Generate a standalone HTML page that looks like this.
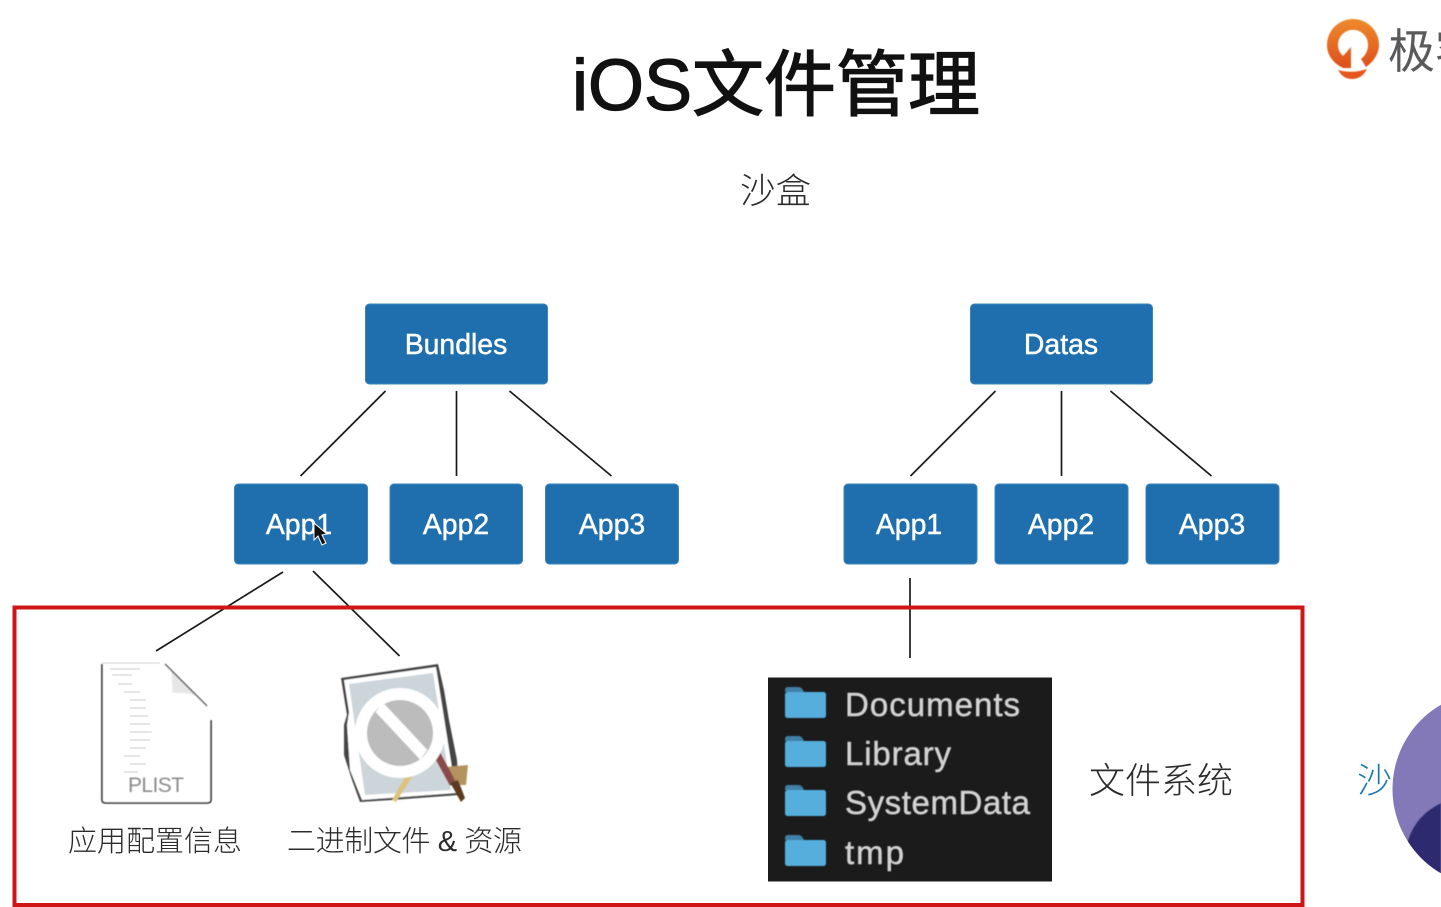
<!DOCTYPE html>
<html>
<head>
<meta charset="utf-8">
<style>
html,body{margin:0;padding:0;background:#fff;width:1441px;height:907px;overflow:hidden}
svg{display:block}
text{font-family:"Liberation Sans","Noto Sans CJK SC",sans-serif}
.b{fill:#1f6fae;stroke:#3a86bd;stroke-width:1}
.t{fill:#fff;stroke:#fff;stroke-width:.45;font-size:28.4px;text-anchor:middle}
.l{stroke:#1a1a1a;stroke-width:1.7;fill:none}
.c{fill:#2b2b2b;font-weight:300}
.f{fill:#d2d2d2;stroke:#d2d2d2;stroke-width:.5;font-size:33px}
</style>
</head>
<body>
<svg width="1441" height="907" viewBox="0 0 1441 907" xmlns="http://www.w3.org/2000/svg">
<defs>
<filter id="s"><feGaussianBlur stdDeviation="0.5"/></filter>
<linearGradient id="og" x1="0" y1="0" x2="0" y2="1"><stop offset="0" stop-color="#ee8a2c"/><stop offset="1" stop-color="#dd4f1c"/></linearGradient>
<clipPath id="av"><circle cx="1490" cy="789" r="97.5"/></clipPath>
<g id="fd">
<path d="M0 4q0-3 3-3h11q2 0 4 3l1 2h-19z" fill="#3f7fa6"/>
<rect x="0" y="6" width="41" height="26" rx="2.5" fill="#54aedc"/>
</g>
</defs>

<text x="572" y="110" font-size="72" fill="#111" stroke="#111" stroke-width="1.3">iOS文件管理</text>
<text x="740" y="203" font-size="35.5" class="c">沙盒</text>

<g class="l">
<path d="M385.5 391L300.5 476M456.5 391V476M509.5 391L611.5 476"/>
<path d="M995.5 391L910.5 476M1061.5 391V476M1110.5 391L1211.5 476"/>
<path d="M283 572L156 651M313 571L399.5 656M910 578V658"/>
</g>

<rect class="b" x="365.5" y="304" width="182" height="80" rx="4"/>
<rect class="b" x="970.5" y="304" width="182" height="80" rx="4"/>
<rect class="b" x="234.5" y="484" width="133" height="80" rx="4"/>
<rect class="b" x="390" y="484" width="132.500" height="80" rx="4"/>
<rect class="b" x="545.5" y="484" width="133" height="80" rx="4"/>
<rect class="b" x="844" y="484" width="133" height="80" rx="4"/>
<rect class="b" x="995" y="484" width="133" height="80" rx="4"/>
<rect class="b" x="1146" y="484" width="133" height="80" rx="4"/>
<text class="t" x="456" y="354">Bundles</text>
<text class="t" x="1061" y="354">Datas</text>
<text class="t" x="299" y="534">App1</text>
<text class="t" x="456" y="534">App2</text>
<text class="t" x="612" y="534">App3</text>
<text class="t" x="909" y="534">App1</text>
<text class="t" x="1061" y="534">App2</text>
<text class="t" x="1212" y="534">App3</text>
<path d="M314 523L314 540L318 536L322 545L326 543L322 535L327 534Z" fill="#111" stroke="#fff" stroke-width="1"/>

<rect x="14.500" y="607.500" width="1288" height="297.500" fill="none" stroke="#cf1515" stroke-width="4"/>

<!-- plist -->
<g filter="url(#s)">
<path d="M102 663Q102 662 104 662H160Q164 662 168 667L204 702Q211 710 211 720V800Q211 803 207 803H106Q102 803 102 800Z" fill="#fff"/>
<path d="M102 664V800Q102 803 106 803H207Q211 803 211 800V720" fill="none" stroke="#222" stroke-width="1.6"/>
<path d="M102 663H160" stroke="#ccc" stroke-width="1"/>
<path d="M171 668Q173 690 172 693Q190 692 199 697Z" fill="#e6e6e6"/>
<path d="M165 664L207 706" stroke="#555" stroke-width="1.4"/>
<g stroke="#c4c4c4" stroke-width="1.1">
<path d="M110 669H140M112 675H132M118 684H132M124 692H140M130 700H146M130 708H146M130 716H148M130 724H150M130 732H152M130 740H150M130 748H146M124 756H140M130 764H146M124 772H138"/>
</g>
</g>
<text x="128" y="792" font-size="21" fill="#8a8a8a" filter="url(#s)" textLength="56">PLIST</text>

<!-- app icon -->
<g filter="url(#s)">
<path d="M341 678L438 664L444 690L449 720L457 760L459 795L392 800L360 802L352 780L344 755L344 725L347 715Z" fill="#444"/>
<path d="M344 680L436 667L456 793L362 800L350 770L347 725L349 712Z" fill="#fff"/>
<path d="M349 684L433 673L451 790L365 795Z" fill="#ccd5da"/>
<path d="M445 767L468 765L466 785L452 785Z" fill="#b5935f"/>
<path d="M392 800L409 770L414 774L396 802Z" fill="#dcc27a"/>
<path d="M425 740L432 737L456 782L450 786Z" fill="#8c4a4a"/>
<path d="M450 783L458 780L465 798L461 802Z" fill="#5a3a20"/>
<circle cx="400" cy="733" r="45" fill="#fff"/>
<circle cx="400" cy="733" r="33" fill="#bcbcbc"/>
<path d="M377 712L383 704L426 750L420 758Z" fill="#fff" stroke="#fff" stroke-width="2"/>
</g>

<text x="68" y="851" font-size="29" class="c">应用配置信息</text>
<text x="287" y="851" font-size="29" class="c" textLength="235" lengthAdjust="spacing">二进制文件 &amp; 资源</text>

<!-- folder panel -->
<rect x="768" y="677.500" width="284" height="204" fill="#1b1b1b"/>
<g filter="url(#s)">
<use href="#fd" x="785" y="686"/>
<use href="#fd" x="785" y="735"/>
<use href="#fd" x="785" y="784"/>
<use href="#fd" x="785" y="834"/>
<text class="f" x="845" y="716" textLength="175" lengthAdjust="spacing">Documents</text>
<text class="f" x="845" y="765" textLength="106" lengthAdjust="spacing">Library</text>
<text class="f" x="845" y="814" textLength="185" lengthAdjust="spacing">SystemData</text>
<text class="f" x="845" y="864" textLength="59" lengthAdjust="spacing">tmp</text>
</g>

<text x="1089" y="793" font-size="36" class="c">文件系统</text>
<text x="1357" y="793" font-size="35" fill="#1c78ae" font-weight="300">沙</text>

<!-- logo -->
<g filter="url(#s)">
<path d="M1353 19A26 26 0 0 1 1379 45C1379 54 1373 62 1366 67L1361 59C1365 56 1368 51 1368 45A15 15 0 1 0 1343 56L1351 47V68H1343C1333 63 1327 55 1327 45A26 26 0 0 1 1353 19Z" fill="url(#og)"/>
<path d="M1338 70Q1352 74 1367 69Q1362 79 1352 79Q1343 79 1338 70Z" fill="#e4571e"/>
</g>
<text x="1388" y="68" font-size="47" fill="#5a5a5a">极客</text>

<!-- avatar -->
<g clip-path="url(#av)" filter="url(#s)">
<rect x="1390" y="690" width="60" height="200" fill="#8379b9"/>
<path d="M1408 840Q1416 815 1441 803V880H1400Z" fill="#2f2a70"/>
</g>
</svg>
</body>
</html>
